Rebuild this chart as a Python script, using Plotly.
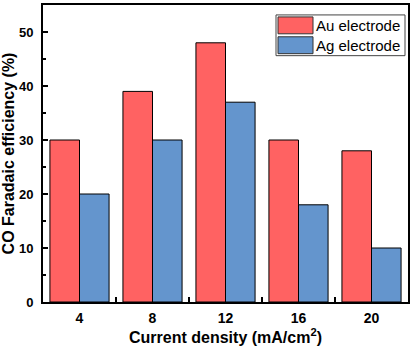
import plotly.graph_objects as go

categories = ["4", "8", "12", "16", "20"]
au_values = [30, 39, 48, 30, 28]
ag_values = [20, 30, 37, 18, 10]
series_names = ["Au electrode", "Ag electrode"]
colors = ["#FF6262", "#6495CD"]

FONT = "Arial, Liberation Sans, sans-serif"

fig = go.Figure()
for name, vals, c in zip(series_names, [au_values, ag_values], colors):
    fig.add_trace(go.Bar(x=categories, y=vals, name=name, marker_color=c,
                         marker_line_color="black", marker_line_width=1,
                         showlegend=False))

fig.update_layout(
    width=415, height=349,
    margin=dict(l=43, r=7, t=3, b=47),
    barmode="group", bargap=0.19, bargroupgap=0,
    plot_bgcolor="white", paper_bgcolor="white",
    font=dict(family=FONT, color="black"),
)
fig.update_xaxes(
    type="category", range=[-0.5, 4.5],
    showline=True, linecolor="black", linewidth=2, mirror=True,
    ticks="inside", tickson="boundaries", ticklen=5, tickwidth=2, tickcolor="black",
    showgrid=False, ticklabelstandoff=2,
    tickfont=dict(size=14, family=FONT, weight="bold"),
    title=dict(text="Current density (mA/cm<sup>2</sup>)", font=dict(size=16, weight="bold"), standoff=4),
)
fig.update_yaxes(
    range=[0, 55], tickvals=[0, 10, 20, 30, 40, 50],
    showline=True, linecolor="black", linewidth=2, mirror=True,
    ticks="inside", ticklen=5, tickwidth=2, tickcolor="black",
    minor=dict(ticks="inside", ticklen=3, tickwidth=1.5, tickcolor="black", dtick=5, tick0=0),
    showgrid=False, zeroline=False, ticklabelstandoff=5,
    tickfont=dict(size=13, family=FONT, weight="bold"),
    title=dict(text="CO Faradaic efficiency (%)", font=dict(size=16, weight="bold"), standoff=2),
)

# manual legend (paper coords)
def px_to_paper_x(px):
    return (px - 43) / (415 - 43 - 7)

def px_to_paper_y(py):
    return (349 - 47 - py) / (349 - 3 - 47)

lx0, lx1, ly0, ly1 = 276, 405, 13, 54
fig.add_shape(type="rect", xref="paper", yref="paper",
              x0=px_to_paper_x(lx0), x1=px_to_paper_x(lx1),
              y0=px_to_paper_y(ly1), y1=px_to_paper_y(ly0),
              line=dict(color="#444", width=1), fillcolor="white")
rows = [(15, 32), (35, 52)]
for (ya, yb), name, c in zip(rows, series_names, colors):
    fig.add_shape(type="rect", xref="paper", yref="paper",
                  x0=px_to_paper_x(278), x1=px_to_paper_x(313),
                  y0=px_to_paper_y(yb), y1=px_to_paper_y(ya),
                  line=dict(color="#333", width=1), fillcolor=c)
    fig.add_annotation(xref="paper", yref="paper", x=px_to_paper_x(314),
                       y=px_to_paper_y((ya + yb) / 2), text=name, showarrow=False,
                       xanchor="left", yanchor="middle",
                       font=dict(size=15, family=FONT, color="black"))

fig.write_html("out.html")
